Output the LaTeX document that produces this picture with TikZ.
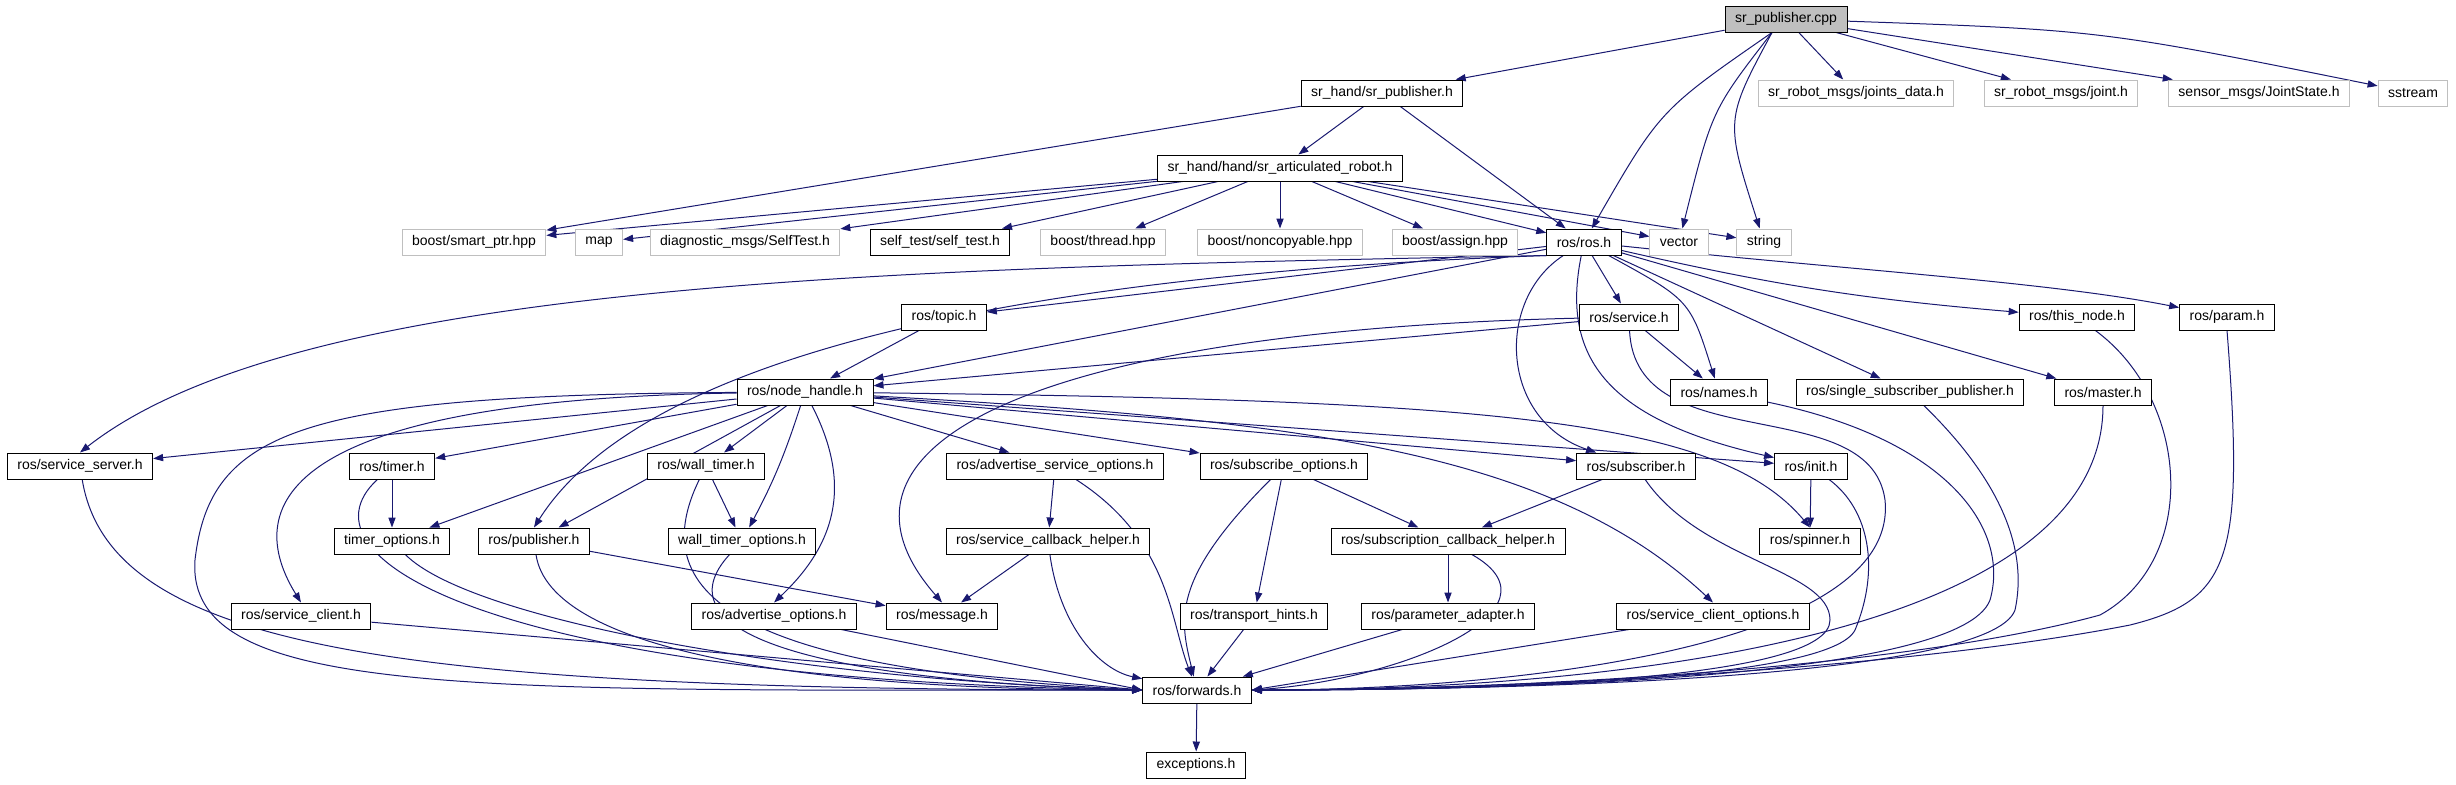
\documentclass[tikz,border=0pt]{standalone}
\usepackage{fontspec}
\setmainfont{Liberation Sans}
\usepackage{tikz}
\usepackage{xcolor}
\usetikzlibrary{arrows.meta,backgrounds}

\definecolor{depblue}{HTML}{191970}
\definecolor{extgray}{HTML}{BFBFBF}

\begin{document}
\begin{tikzpicture}[x=0.5pt, y=-0.5pt,
    every node/.style={font=\fontsize{7pt}{8pt}\selectfont, inner xsep=5pt, inner ysep=0pt, minimum height=13pt, line width=0.5pt},
    hdr/.style={draw=black, fill=white},
    ext/.style={draw=extgray, fill=white},
    srcfile/.style={draw=black, fill=extgray},
    dep/.style={draw=depblue, line width=0.5pt, -{Triangle[length=5pt,width=3.6pt]}}]
    \useasboundingbox (0,0) rectangle (2456,784);

    % top rows
    \node[srcfile] (cpp) at (1786,19) {sr\_publisher.cpp};
    \node[hdr] (srpub) at (1382,93) {sr\_hand/sr\_publisher.h};
    \node[ext] (jdata) at (1856,93) {sr\_robot\_msgs/joints\_data.h};
    \node[ext] (joint) at (2061,93) {sr\_robot\_msgs/joint.h};
    \node[ext] (jstate) at (2259,93) {sensor\_msgs/JointState.h};
    \node[ext] (sstream) at (2413,93) {sstream};
    \node[hdr] (artic) at (1280,168) {sr\_hand/hand/sr\_articulated\_robot.h};

    \node[ext] (smartptr) at (474,242) {boost/smart\_ptr.hpp};
    \node[ext] (map) at (599,242) {map};
    \node[ext] (selftestmsg) at (745,242) {diagnostic\_msgs/SelfTest.h};
    \node[hdr] (selftest) at (940,242) {self\_test/self\_test.h};
    \node[ext] (thread) at (1103,242) {boost/thread.hpp};
    \node[ext] (noncopy) at (1280,242) {boost/noncopyable.hpp};
    \node[ext] (assign) at (1455,242) {boost/assign.hpp};
    \node[hdr] (ros) at (1584,242) {ros/ros.h};
    \node[ext] (vector) at (1679,242) {vector};
    \node[ext] (string) at (1764,242) {string};

    % ros headers
    \node[hdr] (topic) at (944,317) {ros/topic.h};
    \node[hdr] (service) at (1629,317) {ros/service.h};
    \node[hdr] (thisnode) at (2077,317) {ros/this\_node.h};
    \node[hdr] (param) at (2227,317) {ros/param.h};

    \node[hdr] (nodehandle) at (805,392) {ros/node\_handle.h};
    \node[hdr] (names) at (1719,392) {ros/names.h};
    \node[hdr] (singlesub) at (1910,392) {ros/single\_subscriber\_publisher.h};
    \node[hdr] (master) at (2103,392) {ros/master.h};

    \node[hdr] (srvserver) at (80,466) {ros/service\_server.h};
    \node[hdr] (timer) at (392,466) {ros/timer.h};
    \node[hdr] (walltimer) at (706,466) {ros/wall\_timer.h};
    \node[hdr] (advsrvopt) at (1055,466) {ros/advertise\_service\_options.h};
    \node[hdr] (subopt) at (1284,466) {ros/subscribe\_options.h};
    \node[hdr] (subscriber) at (1636,466) {ros/subscriber.h};
    \node[hdr] (init) at (1811,466) {ros/init.h};

    \node[hdr] (timeropt) at (392,541) {timer\_options.h};
    \node[hdr] (publisher) at (534,541) {ros/publisher.h};
    \node[hdr] (walltimeropt) at (742,541) {wall\_timer\_options.h};
    \node[hdr] (srvcbhelper) at (1048,541) {ros/service\_callback\_helper.h};
    \node[hdr] (subcbhelper) at (1448,541) {ros/subscription\_callback\_helper.h};
    \node[hdr] (spinner) at (1810,541) {ros/spinner.h};

    \node[hdr] (srvclient) at (301,616) {ros/service\_client.h};
    \node[hdr] (advopt) at (774,616) {ros/advertise\_options.h};
    \node[hdr] (message) at (942,616) {ros/message.h};
    \node[hdr] (transport) at (1254,616) {ros/transport\_hints.h};
    \node[hdr] (paramadapter) at (1448,616) {ros/parameter\_adapter.h};
    \node[hdr] (srvclientopt) at (1713,616) {ros/service\_client\_options.h};

    \node[hdr] (forwards) at (1197,690) {ros/forwards.h};
    \node[hdr] (exceptions) at (1196,765) {exceptions.h};

    \begin{pgfonlayer}{background}
    % sr_publisher.cpp
    \draw[dep] (cpp) -- (srpub);
    \draw[dep] ([xshift=-7pt]cpp.south) .. controls (1660,110) .. (ros);
    \draw[dep] ([xshift=-7pt]cpp.south) .. controls (1712,110) .. (vector);
    \draw[dep] ([xshift=-7pt]cpp.south) .. controls (1725,120) .. (string);
    \draw[dep] (cpp) -- (jdata);
    \draw[dep] (cpp) -- (joint);
    \draw[dep] (cpp) -- (jstate);
    \draw[dep] (cpp) .. controls (2100,30) .. (sstream);

    % sr_hand headers
    \draw[dep] (srpub) -- (smartptr);
    \draw[dep] (srpub) -- (artic);
    \draw[dep] (srpub) -- (ros);
    \draw[dep] (artic) -- (smartptr);
    \draw[dep] (artic) -- (map);
    \draw[dep] (artic) -- (selftestmsg);
    \draw[dep] (artic) -- (selftest);
    \draw[dep] (artic) -- (thread);
    \draw[dep] (artic) -- (noncopy);
    \draw[dep] (artic) -- (assign);
    \draw[dep] (artic) -- (ros);
    \draw[dep] (artic) -- (vector);
    \draw[dep] (artic) -- (string);

    % ros/ros.h
    \draw[dep] (ros.south west) .. controls (900,268) and (300,280) .. (srvserver.north);
    \draw[dep] (ros.south west) .. controls (1000,275) and (640,360) .. (publisher.north);
    \draw[dep] (ros) -- (topic);
    \draw[dep] (ros) -- (nodehandle);
    \draw[dep] (ros) -- (service);
    \draw[dep] (ros) .. controls (1690,300) .. (names);
    \draw[dep] (ros) -- (singlesub);
    \draw[dep] (ros) -- (master);
    \draw[dep] (ros) to[bend right=4] (thisnode);
    \draw[dep] (ros) .. controls (1850,270) and (2050,282) .. (param);
    \draw[dep] (ros) .. controls (1495,300) and (1500,420) .. (subscriber);
    \draw[dep] (ros) .. controls (1560,360) and (1610,420) .. (init);

    \draw[dep] (topic) -- (nodehandle);
    \draw[dep] (service) -- (nodehandle);
    \draw[dep] (service) -- (names);
    \draw[dep] (service) .. controls (1050,330) and (800,440) .. (message.north);

    % ros/node_handle.h
    \draw[dep] (nodehandle) -- (srvserver);
    \draw[dep] (nodehandle) -- (timer);
    \draw[dep] (nodehandle) -- (timeropt);
    \draw[dep] (nodehandle) -- (publisher);
    \draw[dep] (nodehandle) -- (walltimer);
    \draw[dep] (nodehandle) to[bend left=5] (walltimeropt);
    \draw[dep] (nodehandle) .. controls (850,480) and (840,540) .. (advopt.north);
    \draw[dep] (nodehandle) .. controls (250,400) and (250,520) .. (srvclient.north);
    \draw[dep] (nodehandle) .. controls (300,395) and (210,430) .. (195,560) .. controls (185,700) and (480,690) .. (forwards.west);
    \draw[dep] (nodehandle) -- (advsrvopt);
    \draw[dep] (nodehandle) -- (subopt);
    \draw[dep] (nodehandle) -- (subscriber);
    \draw[dep] (nodehandle) -- (init);
    \draw[dep] (nodehandle) .. controls (1500,400) and (1720,420) .. (spinner.north);
    \draw[dep] (nodehandle) .. controls (1300,420) and (1550,450) .. (srvclientopt.north);

    % second level
    \draw[dep] (timer) -- (timeropt);
    \draw[dep] (walltimer) -- (walltimeropt);
    \draw[dep] (advsrvopt) -- (srvcbhelper);
    \draw[dep] (srvcbhelper) -- (message);
    \draw[dep] (publisher) -- (message);
    \draw[dep] (subopt) -- (subcbhelper);
    \draw[dep] (subopt) -- (transport);
    \draw[dep] (subscriber) -- (subcbhelper);
    \draw[dep] (subcbhelper) -- (paramadapter);
    \draw[dep] (init) -- (spinner);

    % into ros/forwards.h from the left
    \draw[dep] (srvserver) .. controls (110,650) and (400,690) .. (forwards.west);
    \draw[dep] (srvclient) -- (forwards.west);
    \draw[dep] (timer) .. controls (290,560) and (500,680) .. (forwards.west);
    \draw[dep] (timeropt) .. controls (470,620) and (800,680) .. (forwards.west);
    \draw[dep] (publisher) .. controls (550,650) and (800,690) .. (forwards.west);
    \draw[dep] (walltimer) .. controls (640,600) and (750,670) .. (forwards.west);
    \draw[dep] (walltimeropt) .. controls (660,630) and (800,680) .. (forwards.west);
    \draw[dep] (advopt) -- (forwards.west);
    \draw[dep] (srvcbhelper) .. controls (1060,627) and (1100,670) .. (forwards);
    \draw[dep] (advsrvopt) .. controls (1170,540) and (1170,620) .. (forwards);
    \draw[dep] (subopt) .. controls (1170,580) and (1180,620) .. (forwards);
    \draw[dep] (transport) -- (forwards);
    \draw[dep] (paramadapter) -- (forwards);

    % into ros/forwards.h from the right
    \draw[dep] (subcbhelper) .. controls (1570,610) and (1400,680) .. (forwards.east);
    \draw[dep] (srvclientopt) -- (forwards.east);
    \draw[dep] (subscriber) .. controls (1700,560) and (1830,570) .. (1830,620) .. controls (1830,680) and (1500,690) .. (forwards.east);
    \draw[dep] (init) .. controls (1870,510) and (1880,570) .. (1855,630) .. controls (1830,680) and (1500,690) .. (forwards.east);
    \draw[dep] (service) .. controls (1635,460) and (1870,390) .. (1885,500) .. controls (1900,650) and (1500,690) .. (forwards.east);
    \draw[dep] (names) .. controls (1950,440) and (2010,530) .. (1990,600) .. controls (1960,680) and (1500,690) .. (forwards.east);
    \draw[dep] (singlesub) .. controls (1990,470) and (2030,540) .. (2015,610) .. controls (1990,680) and (1500,690) .. (forwards.east);
    \draw[dep] (master) .. controls (2103,640) and (1600,690) .. (forwards.east);
    \draw[dep] (thisnode) .. controls (2190,400) and (2200,560) .. (2100,615) .. controls (1900,670) and (1500,690) .. (forwards.east);
    \draw[dep] (param.south) .. controls (2245,560) and (2230,600) .. (2130,625) .. controls (1900,670) and (1500,690) .. (forwards.east);

    \draw[dep] (forwards) -- (exceptions);
    \end{pgfonlayer}
\end{tikzpicture}
\end{document}
